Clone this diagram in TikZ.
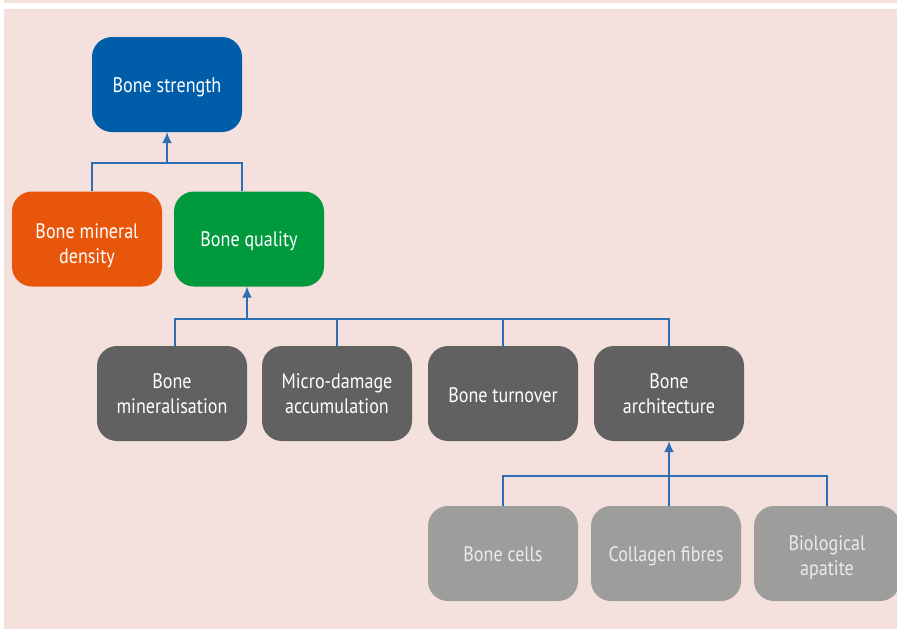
\documentclass[tikz,border=0pt]{standalone}
\usepackage{fontspec}
\setmainfont{PT Sans}[FakeStretch=0.86]
\usetikzlibrary{arrows.meta}
\definecolor{bgpink}{HTML}{F4E0DC}
\definecolor{cblue}{HTML}{005DA9}
\definecolor{corange}{HTML}{E8560C}
\definecolor{cgreen}{HTML}{009A3D}
\definecolor{cdark}{HTML}{616161}
\definecolor{clight}{HTML}{9D9D9C}
\definecolor{cline}{HTML}{2E6FB4}
\tikzset{
  box/.style={rectangle, rounded corners=20pt, minimum width=150pt, minimum height=95pt,
    inner sep=0pt},
  lbl/.style={anchor=base, text=white, font=\fontsize{21}{25}\selectfont, inner sep=0pt},
  lbll/.style={lbl, text=white!92!black},
  conn/.style={draw=cline, line width=1.4pt},
  arr/.style={conn, -{Latex[length=11pt,width=10pt]}}
}
\begin{document}
\begin{tikzpicture}[x=1pt,y=-1pt]
\useasboundingbox (0,0) rectangle (897,630);
\fill[white] (0,0) rectangle (897,630);
\fill[bgpink] (4,0) rectangle (897,629);
\fill[white] (4,3) rectangle (897,9);

\node[box, fill=cblue] (bs) at (167,84.5) {};
\node[box, fill=corange] (bmd) at (87,239) {};
\node[box, fill=cgreen] (bq) at (249,239) {};

\node[box, fill=cdark] (bmin) at (172,393.5) {};
\node[box, fill=cdark] (micro) at (337,393.5) {};
\node[box, fill=cdark] (turn) at (503,393.5) {};
\node[box, fill=cdark] (arch) at (669,393.5) {};

\node[box, fill=clight] (cells) at (503,553.5) {};
\node[box, fill=clight] (coll) at (666,553.5) {};
\node[box, fill=clight, minimum width=146pt] (apat) at (827,553.5) {};

\node[lbl] (tbs) at (167,92) {Bone strength};
\node[lbl] (tbmda) at (87,238) {Bone mineral};
\node[lbl] (tbmdb) at (87,263) {density};
\node[lbl] (tbq) at (249,246.5) {Bone quality};
\node[lbl] (tbmina) at (172,388) {Bone};
\node[lbl] (tbminb) at (172,413) {mineralisation};
\node[lbl] (tmicroa) at (337,388) {Micro-damage};
\node[lbl] (tmicrob) at (337,413) {accumulation};
\node[lbl] (tturn) at (503,402) {Bone turnover};
\node[lbl] (tarcha) at (669,388) {Bone};
\node[lbl] (tarchb) at (669,413) {architecture};
\node[lbll] (tcells) at (503,561) {Bone cells};
\node[lbll] (tcoll) at (666,561) {Collagen fibres};
\node[lbll] (tapata) at (827,550) {Biological};
\node[lbll] (tapatb) at (827,575) {apatite};

% level 1
\coordinate (bus1) at (167,163);
\draw[conn] (bmd.north -| 92,0) -- (92,163) -- (242,163) -- (bq.north -| 242,0);
\draw[arr] (bus1) -- (bs.south);

% level 2
\coordinate (bus2) at (247,319);
\draw[conn] (bmin.north -| 175,0) -- (175,319) -| (arch.north);
\draw[conn] (micro.north) -- (micro.north |- bus2);
\draw[conn] (turn.north) -- (turn.north |- bus2);
\draw[arr] (bus2) -- (bq.south -| bus2);

% level 3
\coordinate (bus3) at (503,476);
\draw[conn] (cells.north) -- (bus3) -| (apat.north);
\draw[arr] (coll.north -| arch.south) -- (arch.south);
\end{tikzpicture}
\end{document}
